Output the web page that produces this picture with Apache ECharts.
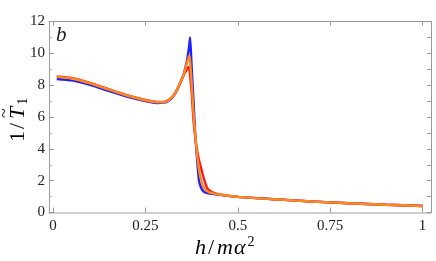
<!DOCTYPE html>
<html><head><meta charset="utf-8">
<script src="https://cdn.jsdelivr.net/npm/echarts@6/dist/echarts.min.js"></script>
<style>html,body{margin:0;padding:0;background:#fff}#c{width:436px;height:261px}</style>
</head><body><div id="c"></div>
<script>
const xs = [0.01,0.05,0.1,0.15,0.2,0.25,0.28,0.3,0.31,0.32,0.33,0.34,0.35,0.355,0.36,0.363,0.367,0.369,0.371,0.375,0.38,0.385,0.39,0.395,0.4,0.405,0.41,0.415,0.42,0.43,0.45,0.5,0.6,0.7,0.8,0.9,1.0];
const blueY = [8.39,8.30,8.02,7.64,7.28,7.00,6.88,6.90,6.98,7.15,7.45,7.90,8.45,8.80,9.30,9.60,10.2,10.6,11.0,9.15,7.07,4.86,3.3,2.0,1.6,1.38,1.28,1.24,1.21,1.17,1.11,0.98,0.83,0.69,0.58,0.49,0.41];
const redY = [8.55,8.45,8.14,7.75,7.37,7.07,6.95,6.95,7.03,7.20,7.50,7.93,8.45,8.70,8.90,9.03,9.15,9.00,8.60,7.60,5.80,4.70,3.90,3.30,2.85,2.40,2.00,1.65,1.45,1.28,1.14,0.98,0.83,0.69,0.58,0.49,0.41];
const orangeY = [8.52,8.42,8.12,7.73,7.35,7.05,6.93,6.93,7.01,7.18,7.48,7.92,8.45,8.78,9.20,9.45,9.75,9.85,9.50,8.20,6.30,4.80,3.60,2.70,2.10,1.70,1.50,1.38,1.30,1.22,1.13,0.98,0.83,0.69,0.58,0.49,0.41];
const xTicks = [0,0.25,0.5,0.75,1];
const xTickLabels = ['0','0.25','0.5','0.75','1'];
const seriesNames = ['blue','red','orange'];
const colors = ['#1f1fff','#ff1a1a','#ff8a1a'];

const pairs = ys => xs.map((x,i)=>[x, ys[i]]);
const serif = 'serif';
const axisCol = '#9a9a9a';
const ink = '#222';
const chart = echarts.init(document.getElementById('c'));
const xRich = {
  h:{fontFamily:serif,fontStyle:'italic',fontSize:22,color:ink},
  sl:{fontFamily:serif,fontSize:22,color:ink,padding:[0,2,0,2]},
  m:{fontFamily:serif,fontStyle:'italic',fontSize:22,color:ink,padding:[0,1,0,1]},
  a:{fontFamily:serif,fontStyle:'italic',fontSize:22,color:ink},
  s:{fontFamily:serif,fontSize:14,color:ink,padding:[0,0,13,2]}
};
const yRich = {
  o:{fontFamily:serif,fontSize:22,color:ink},
  sl:{fontFamily:serif,fontSize:22,color:ink,padding:[0,4,0,2]},
  t:{fontFamily:serif,fontStyle:'italic',fontSize:22,color:ink},
  d:{fontFamily:serif,fontSize:14,color:ink,padding:[10,0,0,2]}
};
chart.setOption({
  animation:false,
  grid:{left:49,right:5,top:21.5,bottom:48.5,show:false,containLabel:false,outerBoundsMode:'none'},
  xAxis:[{
    type:'value',min:-0.011,max:1.023,position:'bottom',
    splitLine:{show:false},
    axisLine:{show:true,lineStyle:{color:'#bdbdbd',width:1.5}},
    axisTick:{show:true,inside:true,length:5,customValues:xTicks,lineStyle:{color:axisCol}},
    axisLabel:{customValues:xTicks,formatter:(v)=>{const i=xTicks.indexOf(v);return i>=0?xTickLabels[i]:'';},
      color:ink,fontFamily:serif,fontSize:15,margin:6}
  },{
    type:'value',min:-0.011,max:1.023,position:'top',
    splitLine:{show:false},
    axisLine:{show:true,onZero:false,lineStyle:{color:axisCol,width:1}},
    axisTick:{show:true,inside:true,length:4,customValues:xTicks,lineStyle:{color:axisCol}},
    axisLabel:{show:false}
  }],
  yAxis:[{
    type:'value',min:0,max:12,interval:2,position:'left',
    splitLine:{show:false},
    axisLine:{show:true,onZero:false,lineStyle:{color:axisCol,width:1}},
    axisTick:{show:true,inside:true,length:5,lineStyle:{color:axisCol}},
    minorTick:{show:true,splitNumber:2,length:3,lineStyle:{color:'#b5b5b5'}},
    axisLabel:{color:ink,fontFamily:serif,fontSize:15,margin:4}
  },{
    type:'value',min:0,max:12,interval:1,position:'right',
    splitLine:{show:false},
    axisLine:{show:true,onZero:false,lineStyle:{color:axisCol,width:1}},
    axisTick:{show:true,inside:true,length:4,lineStyle:{color:axisCol}},
    axisLabel:{show:false}
  }],
  graphic:[
    {type:'text',left:56,top:25,style:{text:'b',font:'italic 21px serif',fill:ink}},
    {type:'text',x:195,y:235,style:{text:'{h|h}{sl|/}{m|m}{a|α}{s|2}',rich:xRich}},
    {type:'group',x:18,y:142,rotation:Math.PI/2,children:[
      {type:'text',x:0,y:0,style:{text:'{o|1}{sl|/}{t|T}{d|1}',rich:yRich,verticalAlign:'middle',align:'left'}},
      {type:'text',x:24,y:-22,style:{text:'~',font:'18px serif',fill:ink,verticalAlign:'top',align:'left'}}
    ]}
  ],
  series:[blueY,redY,orangeY].map((ys,k)=>({
    name:seriesNames[k],type:'line',data:pairs(ys),xAxisIndex:0,yAxisIndex:0,
    showSymbol:false,smooth:0.2,lineStyle:{color:colors[k],width:2.4},z:2+k
  }))
});
</script></body></html>
